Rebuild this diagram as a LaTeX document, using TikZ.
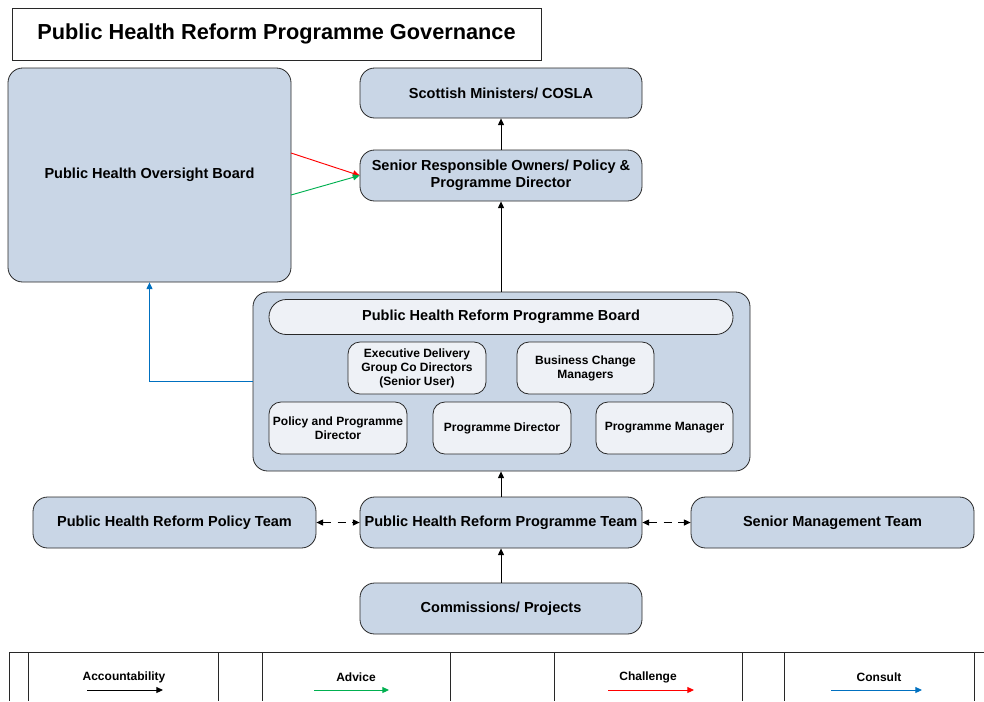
\documentclass[tikz,border=0pt]{standalone}
\usepackage{fontspec}
\setmainfont{Liberation Sans}
\usetikzlibrary{arrows.meta}
\definecolor{boxfill}{RGB}{201,214,230}
\definecolor{innerfill}{RGB}{238,241,246}
\definecolor{edge}{RGB}{40,40,40}
\definecolor{advgreen}{RGB}{0,176,80}
\definecolor{chred}{RGB}{255,0,0}
\definecolor{conblue}{RGB}{0,112,192}
\tikzset{
  box/.style={draw=edge, line width=0.6pt, fill=boxfill, rounded corners=11pt, align=center, font=\fontsize{10.9}{13}\selectfont\bfseries, inner sep=1pt},
  innerbox/.style={draw=edge, line width=0.6pt, fill=innerfill, rounded corners=9pt, align=center, font=\fontsize{9}{10.5}\selectfont\bfseries, inner sep=1pt, minimum height=39pt},
  tip/.style={-{Triangle[width=4.5pt,length=5pt]}},
  conn/.style={line width=0.7pt, tip},
  legtext/.style={font=\fontsize{9}{10.5}\selectfont\bfseries},
  legline/.style={line width=0.6pt, draw=edge}
}
\begin{document}
\begin{tikzpicture}[x=0.75pt,y=-0.75pt]
\useasboundingbox (0,0) rectangle (984,701);
% title
\node[draw=edge, line width=0.6pt, minimum width=396.75pt, minimum height=39pt, font=\fontsize{16.3}{19}\selectfont\bfseries] (title) at (276.5,34) {Public Health Reform Programme Governance};
% main boxes
\node[box, minimum width=212.25pt, minimum height=160.5pt] (ob) at (149.5,175) {Public Health Oversight Board};
\node[box, minimum width=211.5pt, minimum height=37.5pt] (sm) at (501,93) {Scottish Ministers/ COSLA};
\node[box, minimum width=211.5pt, minimum height=38.25pt] (sr) at (501,175.5) {Senior Responsible Owners/ Policy \&\\Programme Director};
\node[box, minimum width=372.75pt, minimum height=134.25pt] (ct) at (501.5,381.5) {};
\node[innerbox, rounded corners=13pt, minimum width=348pt, minimum height=26.25pt, font=\fontsize{10.9}{13}\selectfont\bfseries] (pb) at (501,317) {Public Health Reform Programme Board};
\node[innerbox, minimum width=103.5pt] (ed) at (417,368) {Executive Delivery\\Group Co Directors\\(Senior User)};
\node[innerbox, minimum width=102.75pt] (bc) at (585.5,368) {Business Change\\Managers};
\node[innerbox, minimum width=103.5pt] (ppd) at (338,428) {Policy and Programme\\Director};
\node[innerbox, minimum width=103.5pt] (pd) at (502,428) {Programme Director};
\node[innerbox, minimum width=102.75pt] (pm) at (664.5,428) {Programme Manager};
\node[box, minimum width=212.25pt, minimum height=38.25pt] (pt) at (174.5,522.5) {Public Health Reform Policy Team};
\node[box, minimum width=211.5pt, minimum height=38.25pt] (tm) at (501,522.5) {Public Health Reform Programme Team};
\node[box, minimum width=212.25pt, minimum height=38.25pt] (smt) at (832.5,522.5) {Senior Management Team};
\node[box, minimum width=211.5pt, minimum height=38.25pt] (cp) at (501,608.5) {Commissions/ Projects};
% connectors
\draw[conn] (sr.north) -- (sm.south);
\draw[conn] (ct.north -| sr.south) -- (sr.south);
\draw[conn] (tm.north) -- (ct.south -| tm.north);
\draw[conn] (cp.north) -- (tm.south);
\coordinate (rs) at (291,153);
\coordinate (gs) at (291,195);
\draw[conn, chred] (rs) -- (sr.west);
\draw[conn, advgreen] (gs) -- (sr.west);
\draw[conn, conblue] (ct.west) -| (ob.south);
\draw[line width=0.7pt, dashed, dash pattern=on 6pt off 5pt, {Triangle[width=4.5pt,length=5pt]}-{Triangle[width=4.5pt,length=5pt]}] (pt.east) -- (tm.west);
\draw[line width=0.7pt, dashed, dash pattern=on 6pt off 5pt, {Triangle[width=4.5pt,length=5pt]}-{Triangle[width=4.5pt,length=5pt]}] (tm.east) -- (smt.west);
% legend
\draw[legline] (9,652) -- (984,652);
\foreach \xx in {9,28,218,262,450,554,742,784,974} {\draw[legline] (\xx,652) -- (\xx,701);}
\node[legtext] (l1) at (124,677) {Accountability};
\node[legtext] (l2) at (356,677) {Advice};
\node[legtext] (l3) at (648,677) {Challenge};
\node[legtext] (l4) at (879,677) {Consult};
\coordinate (a1s) at (87,690); \coordinate (a1e) at (163,690);
\coordinate (a2s) at (314,690); \coordinate (a2e) at (389,690);
\coordinate (a3s) at (608,690); \coordinate (a3e) at (694,690);
\coordinate (a4s) at (831,690); \coordinate (a4e) at (922,690);
\draw[conn] (a1s) -- (a1e);
\draw[conn, advgreen] (a2s) -- (a2e);
\draw[conn, chred] (a3s) -- (a3e);
\draw[conn, conblue] (a4s) -- (a4e);
\end{tikzpicture}
\end{document}
